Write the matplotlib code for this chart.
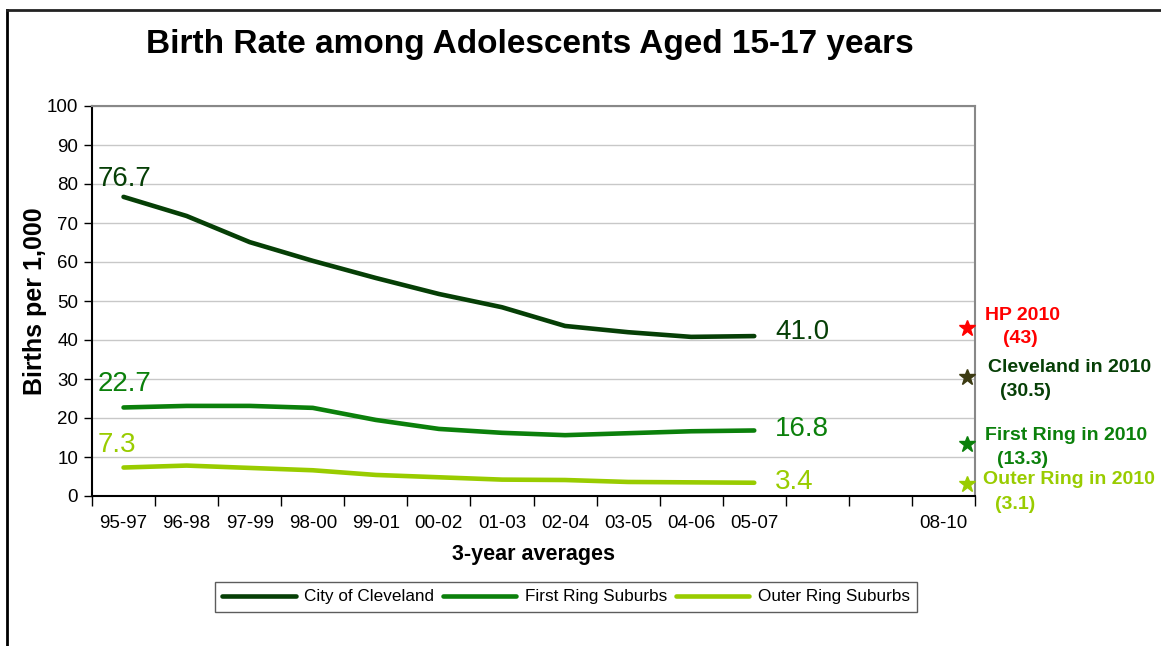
import matplotlib.pyplot as plt
from matplotlib.lines import Line2D

periods = ['95-97', '96-98', '97-99', '98-00', '99-01', '00-02', '01-03',
           '02-04', '03-05', '04-06', '05-07', '', '', '08-10']
cleveland = [76.7, 71.8, 65.1, 60.3, 55.9, 51.8, 48.4, 43.6, 42.0, 40.8, 41.0]
first_ring = [22.7, 23.1, 23.1, 22.6, 19.5, 17.2, 16.2, 15.6, 16.1, 16.6, 16.8]
outer_ring = [7.3, 7.8, 7.2, 6.6, 5.4, 4.8, 4.2, 4.1, 3.6, 3.5, 3.4]

targets = [43, 30.5, 13.3, 3.1]
target_names = ['HP 2010', 'Cleveland in 2010', 'First Ring in 2010', 'Outer Ring in 2010']
target_labels = ['(43)', '(30.5)', '(13.3)', '(3.1)']

c_city = '#063f06'
c_first = '#0b800b'
c_outer = '#99cc00'
star_colors = ['#ff0000', '#3b3a12', '#0b800b', '#99cc00']
text_colors = ['#ff0000', '#063f06', '#0b800b', '#99cc00']

plt.rcParams['font.family'] = ['Liberation Sans', 'DejaVu Sans']

fig = plt.figure(figsize=(11.61, 6.46), dpi=100)
ax = fig.add_axes([92 / 1161, 1 - 496 / 646, 883 / 1161, 390 / 646])

x = list(range(len(cleveland)))
ax.plot(x, cleveland, color=c_city, lw=3.3, solid_capstyle='round', label='City of Cleveland')
ax.plot(x, first_ring, color=c_first, lw=3.3, solid_capstyle='round', label='First Ring Suburbs')
ax.plot(x, outer_ring, color=c_outer, lw=3.3, solid_capstyle='round', label='Outer Ring Suburbs')

# first / last value labels
for vals, col in [(cleveland, c_city), (first_ring, c_first), (outer_ring, c_outer)]:
    dy = 18 if vals is cleveland else 23
    ax.annotate(f'{vals[0]:.1f}', (x[0], vals[0]), xytext=(-26, dy),
                textcoords='offset pixels', ha='left', va='center',
                fontsize=20, color=col)
    dy2 = 4 if vals is cleveland else 1
    ax.annotate(f'{vals[-1]:.1f}', (x[-1], vals[-1]), xytext=(21, dy2),
                textcoords='offset pixels', ha='left', va='center',
                fontsize=20, color=col)

# 2010 targets
star_x = 13.37
offs1 = [(18, 13), (21, 10), (18, 9), (16, 4)]
offs2 = [(36, -10), (33, -14), (30, -15), (28, -21)]
for i, val in enumerate(targets):
    ax.plot(star_x, val, marker='*', ms=12, color=star_colors[i], clip_on=False, zorder=5)
    ax.annotate(target_names[i], (star_x, val), xytext=offs1[i], textcoords='offset pixels',
                ha='left', va='center', fontsize=14, fontweight='bold',
                color=text_colors[i], annotation_clip=False)
    ax.annotate(target_labels[i], (star_x, val), xytext=offs2[i], textcoords='offset pixels',
                ha='left', va='center', fontsize=14, fontweight='bold',
                color=text_colors[i], annotation_clip=False)

ax.set_xlim(-0.5, 13.5)
ax.set_ylim(0, 100)
ax.set_yticks(range(0, 101, 10))
ax.set_xticks([i - 0.5 for i in range(15)])
ax.set_xticklabels([])
ax.set_xticks(range(len(periods)), minor=True)
ax.set_xticklabels(periods, minor=True, fontsize=13.5)
ax.tick_params(axis='x', which='major', length=7, width=1, direction='out')
ax.tick_params(axis='x', which='minor', length=0, pad=14)
ax.tick_params(axis='y', length=6, width=1, direction='out', labelsize=13.5, pad=4)

ax.grid(axis='y', color='#c8c8c8', lw=1)
ax.set_axisbelow(True)
for s in ['top', 'right']:
    ax.spines[s].set_color('#888888')
    ax.spines[s].set_linewidth(1.5)
for s in ['left', 'bottom']:
    ax.spines[s].set_color('black')
    ax.spines[s].set_linewidth(1.5)

ax.set_ylabel('Births per 1,000', fontsize=18, fontweight='bold', labelpad=0)
ax.set_xlabel('3-year averages', fontsize=15.5, fontweight='bold', labelpad=8)
fig.text(530 / 1161, 1 - 45 / 646, 'Birth Rate among Adolescents Aged 15-17 years',
         ha='center', va='center', fontsize=24, fontweight='bold')

leg = fig.legend(loc='center', bbox_to_anchor=(566 / 1161, 1 - 597 / 646), ncol=3,
                 fontsize=12.3, frameon=True, fancybox=False, edgecolor='#333333',
                 handlelength=4.3, handletextpad=0.5, columnspacing=0.5,
                 borderpad=0.45)
leg.get_frame().set_linewidth(1)

# outer frame (cut at right and bottom)
fig.add_artist(Line2D([7 / 1161, 7 / 1161], [0, 1 - 10 / 646], color='black', lw=2))
fig.add_artist(Line2D([7 / 1161, 1], [1 - 10 / 646, 1 - 10 / 646], color='#222222', lw=2))

fig.savefig('out.png', dpi=100)
